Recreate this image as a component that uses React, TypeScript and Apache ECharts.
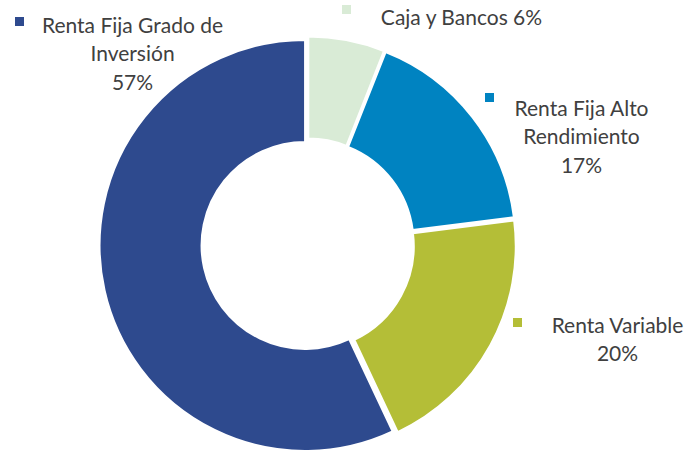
import React, { useEffect, useRef } from "react";
import * as echarts from "echarts";

const categories = [
  "Caja y Bancos",
  "Renta Fija Alto\nRendimiento",
  "Renta Variable",
  "Renta Fija Grado de\nInversión",
];
const values = [6, 17, 20, 57];
const separators = [" ", "\n", "\n", "\n"];
const colors = ["#D9EBD6", "#0083C1", "#B4BE37", "#2E4A8E"];

// label layout (text block centre x, top y) and legend-key squares
const labelPos = [
  { x: 461.5, y: 2 },
  { x: 581.5, y: 93 },
  { x: 617.5, y: 310 },
  { x: 132.5, y: 10 },
];
const keyPos = [
  { x: 342, y: 5 },
  { x: 485, y: 93 },
  { x: 513, y: 318 },
  { x: 15, y: 17 },
];

export default function App() {
  const ref = useRef<HTMLDivElement>(null);
  useEffect(() => {
    document.body.style.margin = "0";
    if (!ref.current) return;
    const chart = echarts.init(ref.current, undefined, { renderer: "svg" });
    const keys = keyPos.map((p, i) => ({
      type: "rect",
      shape: { x: p.x, y: p.y, width: 9, height: 9 },
      style: { fill: colors[i] },
      silent: true,
    }));
    const texts = labelPos.map((p, i) => ({
      type: "text",
      x: p.x,
      y: p.y,
      silent: true,
      style: {
        text: categories[i] + separators[i] + values[i] + "%",
        fill: "#404040",
        font: "21px Lato",
        lineHeight: 28.5,
        textAlign: "center",
        textVerticalAlign: "top",
        align: "center",
        verticalAlign: "top",
      },
    }));
    chart.setOption({
      animation: false,
      backgroundColor: "#ffffff",
      graphic: [...keys, ...texts],
      series: [
        {
          type: "pie",
          center: [307.8, 244.8],
          radius: [103.5, 205.5],
          startAngle: 90,
          clockwise: true,
          silent: true,
          selectedMode: "multiple",
          selectedOffset: 2.8,
          emphasis: { disabled: true },
          itemStyle: { borderColor: "#ffffff", borderWidth: 2 },
          select: { itemStyle: { borderColor: "#ffffff", borderWidth: 2 } },
          label: { show: false },
          labelLine: { show: false },
          data: categories.map((c, i) => ({
            name: c,
            value: values[i],
            selected: true,
            itemStyle: { color: colors[i] },
            select: { itemStyle: { color: colors[i] } },
          })),
        },
      ],
    });
    return () => chart.dispose();
  }, []);
  return (
    <div
      ref={ref}
      style={{ position: "absolute", left: 0, top: 0, width: 700, height: 451 }}
    />
  );
}
